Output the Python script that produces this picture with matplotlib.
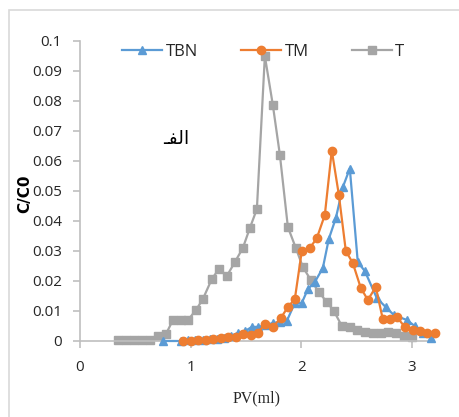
import matplotlib
matplotlib.use('Agg')
import matplotlib.pyplot as plt
from matplotlib.patches import Rectangle

# PV (ml) and C/C0
pv_tbn = [0.750, 0.912, 0.976, 1.039, 1.111, 1.174, 1.238, 1.301, 1.364, 1.427,
          1.491, 1.554, 1.608, 1.680, 1.743, 1.807, 1.870, 1.942, 2.005, 2.060,
          2.123, 2.195, 2.249, 2.313, 2.376, 2.439, 2.511, 2.575, 2.683, 2.764,
          2.836, 2.954, 3.026, 3.098, 3.171]
c_tbn = [0.0, 0.0, 0.0003, 0.0003, 0.0003, 0.0007, 0.0007, 0.0010, 0.0017, 0.0027,
         0.0033, 0.0047, 0.0047, 0.0053, 0.0060, 0.0063, 0.0067, 0.0127, 0.0127, 0.0173,
         0.0197, 0.0243, 0.0340, 0.0410, 0.0513, 0.0575, 0.0263, 0.0233, 0.0143, 0.0113,
         0.0087, 0.0070, 0.0050, 0.0027, 0.0010]

pv_tm = [0.930, 1.003, 1.066, 1.138, 1.201, 1.274, 1.337, 1.409, 1.472, 1.545,
         1.608, 1.671, 1.743, 1.816, 1.879, 1.942, 2.005, 2.078, 2.141, 2.213,
         2.276, 2.340, 2.403, 2.466, 2.538, 2.602, 2.674, 2.737, 2.800, 2.864,
         2.936, 3.008, 3.071, 3.135, 3.207]
c_tm = [0.0, 0.0, 0.0003, 0.0003, 0.0007, 0.0010, 0.0013, 0.0013, 0.0023, 0.0020,
        0.0027, 0.0057, 0.0047, 0.0077, 0.0113, 0.0140, 0.0300, 0.0310, 0.0343, 0.0420,
        0.0635, 0.0487, 0.0300, 0.0260, 0.0177, 0.0137, 0.0180, 0.0073, 0.0073, 0.0080,
        0.0047, 0.0037, 0.0033, 0.0027, 0.0027]

pv_t = [0.343, 0.416, 0.488, 0.560, 0.632, 0.705, 0.777, 0.840, 0.912, 0.976,
        1.048, 1.111, 1.192, 1.256, 1.328, 1.400, 1.472, 1.536, 1.599, 1.671,
        1.743, 1.807, 1.879, 1.951, 2.014, 2.087, 2.159, 2.231, 2.295, 2.367,
        2.439, 2.502, 2.575, 2.647, 2.719, 2.782, 2.855, 2.927, 2.999]
c_t = [0.0003, 0.0003, 0.0003, 0.0003, 0.0003, 0.0017, 0.0023, 0.0070, 0.0070, 0.0070,
       0.0103, 0.0140, 0.0207, 0.0240, 0.0217, 0.0263, 0.0310, 0.0377, 0.0440, 0.0950,
       0.0787, 0.0620, 0.0380, 0.0310, 0.0247, 0.0203, 0.0163, 0.0130, 0.0100, 0.0050,
       0.0047, 0.0037, 0.0030, 0.0027, 0.0027, 0.0030, 0.0027, 0.0017, 0.0013]

x_ticks = [0, 1, 2, 3]
y_ticks = [0, 0.01, 0.02, 0.03, 0.04, 0.05, 0.06, 0.07, 0.08, 0.09, 0.1]
y_ticklabels = ['0', '0.01', '0.02', '0.03', '0.04', '0.05', '0.06', '0.07', '0.08', '0.09', '0.1']

W, H = 459, 417
fig = plt.figure(figsize=(W / 100, H / 100), dpi=100)
fig.patches.append(Rectangle((9 / W, -0.1), 1.2, 1 - 10 / H + 0.1, transform=fig.transFigure,
                             fill=False, edgecolor='#d9d9d9', lw=1.2))

ax = fig.add_axes([80 / W, 1 - 341 / H, 354 / W, 300 / H])

ax.plot(pv_tbn, c_tbn, color='#5b9bd5', marker='^', ms=5.5, lw=1.6, label='TBN', clip_on=False, zorder=3)
ax.plot(pv_tm, c_tm, color='#ed7d31', marker='o', ms=6, lw=1.6, label='TM', clip_on=False, zorder=4)
ax.plot(pv_t, c_t, color='#a5a5a5', marker='s', ms=5.5, lw=1.6, label='T', clip_on=False, zorder=2)

ax.set_xlim(0, 3.2)
ax.set_ylim(0, 0.1)
ax.set_xticks(x_ticks)
ax.set_yticks(y_ticks)
ax.set_yticklabels(y_ticklabels)

for s in ['top', 'right']:
    ax.spines[s].set_visible(False)
for s in ['left', 'bottom']:
    ax.spines[s].set_color('#bfbfbf')
    ax.spines[s].set_linewidth(1.2)
ax.tick_params(axis='both', colors='#bfbfbf', labelcolor='#262626', length=5, width=1.2,
               labelsize=11, direction='out')
ax.tick_params(axis='x', pad=9)
ax.tick_params(axis='y', pad=8)
for lab in ax.get_xticklabels() + ax.get_yticklabels():
    lab.set_family('Open Sans')

ax.set_xlabel('PV(ml)', family='Liberation Serif', fontsize=11.5, color='#262626')
ax.xaxis.set_label_coords(0.5, -0.165)
ax.set_ylabel('C/C0', family='DejaVu Sans', fontsize=11, fontweight='bold', color='black')
ax.yaxis.set_label_coords(-0.135, 0.49)

leg = ax.legend(loc='upper left', bbox_to_anchor=(0.077, 1.04), ncol=3, frameon=False,
                handlelength=2.4, columnspacing=2.6, handletextpad=0.2,
                prop={'family': 'Open Sans', 'size': 12})
for t in leg.get_texts():
    t.set_color('#262626')

# arabic label in visual (left-to-right) order with presentation forms
ax.text(0.87, 0.0675, '\u0640\uFED4\uFEDF\uFE8D', family='DejaVu Sans', fontsize=13.5,
        ha='center', va='center', color='black')

fig.savefig('out.png', dpi=100)
